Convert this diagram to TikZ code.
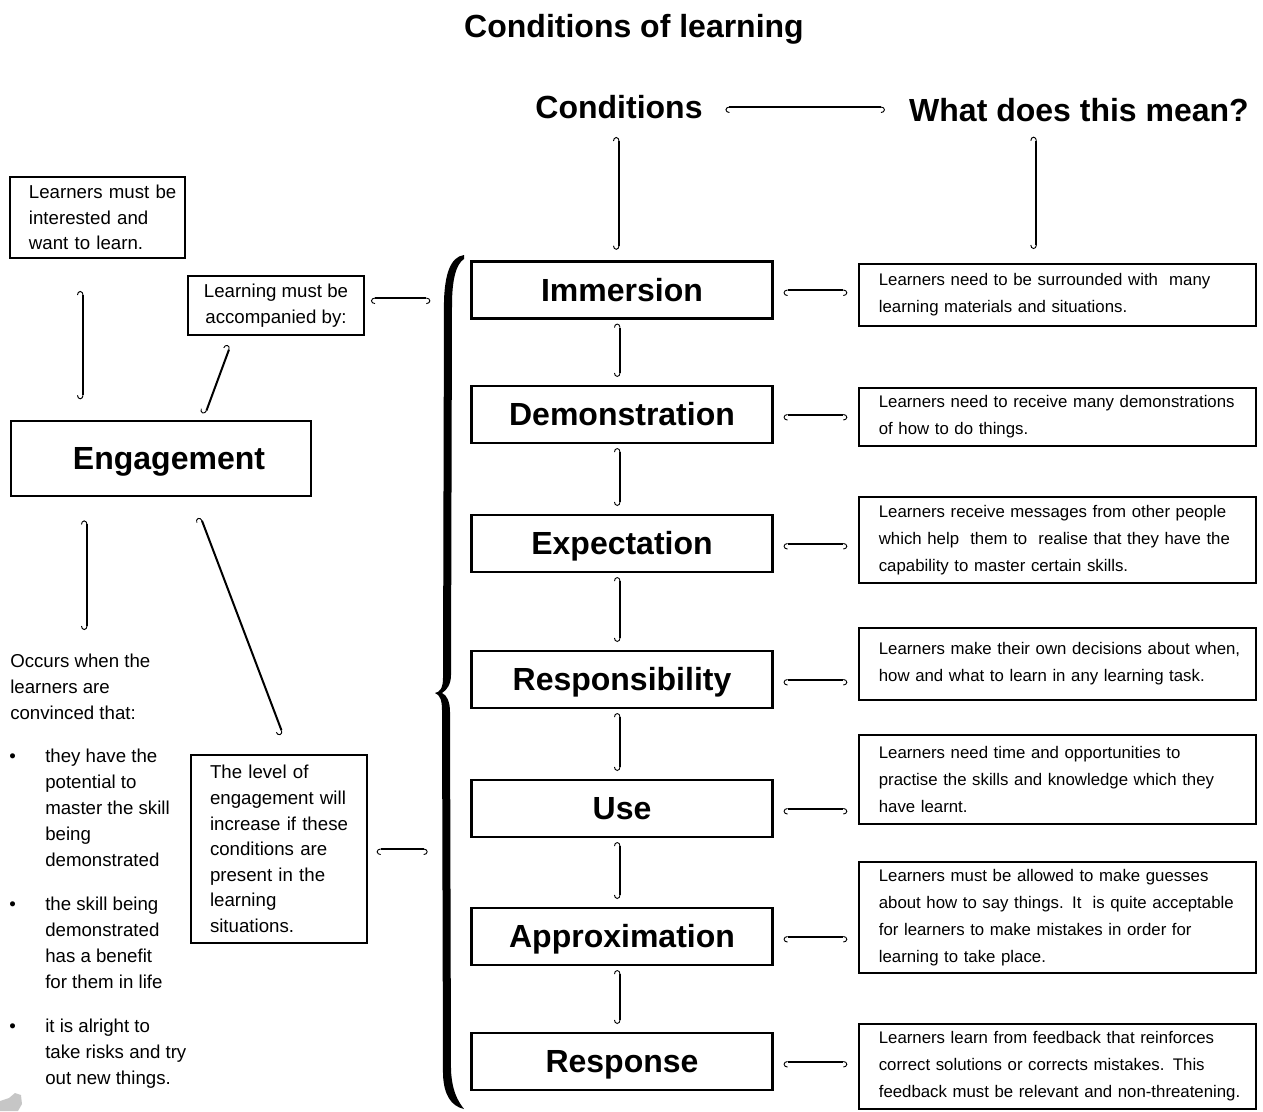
\documentclass[tikz,border=0pt]{standalone}
\usepackage{fontspec}
\setmainfont{Liberation Sans}
\usetikzlibrary{arrows.meta}
\tikzset{cond/.style={draw, line width=1.6pt, minimum width=225.75pt, minimum height=42.75pt, inner sep=0pt, text height=17.2pt, text depth=0pt, font=\fontsize{24}{28}\selectfont\bfseries},
  expl/.style={draw, line width=1.5pt, text width=283pt, inner xsep=7.4pt, inner ysep=0pt, align=left, execute at begin node={\leftskip=7.5pt}, font=\fontsize{12.6}{20.2}\selectfont},
  note/.style={draw, line width=1.5pt, align=left, font=\fontsize{14}{19.2}\selectfont},
  plain/.style={inner sep=0pt, align=left, font=\fontsize{14}{19.5}\selectfont},
  head/.style={inner sep=0pt, font=\fontsize{24}{28}\selectfont\bfseries},
  link/.style={line width=1.5pt, {Hooks[left,arc=180,length=3pt,width=9pt,line width=0.7pt]}-{Hooks[right,arc=180,length=3pt,width=9pt,line width=0.7pt]}}}

\begin{document}
\begin{tikzpicture}[x=0.75pt, y=-0.75pt]
  \useasboundingbox (0,0) rectangle (1263,1111);
  % headings
  \node[head] (title) at (634,29) {Conditions of learning};
  \node[head] (cnd) at (619,107) {Conditions};
  \node[head] (mean) at (1079,110) {What does this mean?};
  \draw[link, shorten <=17pt, shorten >=18pt] (cnd.east) -- (cnd.east -| mean.west);
  % the seven conditions
  \node[cond] (imm) at (622,290) {Immersion};
  \node[cond] (dem) at (622,414.5) {Demonstration};
  \node[cond] (exp) at (622,543.5) {Expectation};
  \node[cond] (res) at (622,679.5) {Responsibility};
  \node[cond] (use) at (622,808.5) {Use};
  \node[cond] (app) at (622,936.5) {Approximation};
  \node[cond] (rsp) at (622,1061.5) {Response};
  % what they mean
  \node[expl, minimum height=46.5pt] (immx) at (1057.5,295)
    {Learners need to be surrounded with\ \ many\\learning materials and situations.};
  \node[expl, minimum height=43.5pt] (demx) at (1057.5,417)
    {Learners need to receive many demonstrations\\of how to do things.};
  \node[expl, minimum height=64.5pt] (expx) at (1057.5,540)
    {Learners receive messages from other people\\which help\ \ them to\ \ realise that they have the\\capability to master certain skills.};
  \node[expl, minimum height=54pt] (resx) at (1057.5,664)
    {Learners make their own decisions about when,\\how and what to learn in any learning task.};
  \node[expl, minimum height=66.75pt] (usex) at (1057.5,779.5)
    {Learners need time and opportunities to\\practise the skills and knowledge which they\\have learnt.};
  \node[expl, minimum height=83.25pt] (appx) at (1057.5,917.5)
    {Learners must be allowed to make guesses\\about how to say things. It\ \ is quite acceptable\\for learners to make mistakes in order for\\learning to take place.};
  \node[expl, minimum height=64pt] (rspx) at (1057.5,1066.5)
    {Learners learn from feedback that reinforces\\correct solutions or corrects mistakes. This\\feedback must be relevant and non-threatening.};
  \draw[link, shorten <=13.5pt, shorten >=8pt] (cnd.south) -- (cnd.south |- imm.north);
  \draw[link, shorten <=11pt, shorten >=10.5pt] ([xshift=-32pt]mean.south) -- ([xshift=-32pt]mean.south |- immx.north);
  \foreach \a/\b in {imm/dem, dem/exp, exp/res, res/use, use/app, app/rsp}
    \draw[link, shorten <=3pt, shorten >=6pt] ([xshift=-1.5pt]\a.south) -- ([xshift=-1.5pt]\b.north);
  \foreach \a in {imm, dem, exp, res, use, app, rsp}
    \draw[link, shorten <=7.5pt, shorten >=8pt] (\a.east) -- (\a.east -| \a x.west);
  % brace
  \coordinate (brace) at (437,693);
  \fill (464,255) .. controls (450,257) and (445,275) .. (444,300) -- (443,678)
    .. controls (443,688) and (440,692) .. (435,693)
    .. controls (440,695) and (442,700) .. (442,710) -- (443,1075)
    .. controls (444,1095) and (451,1106) .. (464,1109)
    .. controls (457,1100) and (452,1090) .. (451,1070) -- (450,712)
    .. controls (450,702) and (447,695) .. (442,693)
    .. controls (447,690) and (451,684) .. (451,675) -- (452,305)
    .. controls (452,280) and (456,264) .. (464,259) -- cycle;
  % engagement
  \node[note, text width=124pt, inner xsep=3.6pt, minimum height=60.75pt, execute at begin node={\leftskip=10.6pt}] (want) at (97.5,217.5)
    {Learners must be\\interested and\\want to learn.};
  \node[note, align=center, minimum width=132pt, minimum height=44.25pt] (acc) at (276,305.5)
    {Learning must be\\accompanied by:};
  \node[cond, minimum width=225pt, minimum height=56.25pt] (eng) at (161,458.5) {\hspace*{12pt}Engagement};
  \node[note, text width=112pt, inner xsep=10pt, minimum height=141pt, execute at begin node={\leftskip=4.25pt}] (level) at (279,849)
    {The level of\\engagement will\\increase if these\\conditions are\\present in the\\learning\\situations.};
  \node[plain, anchor=north west] (occurs) at (10,654) {Occurs when the\\learners are\\convinced that:};
  \node[plain, anchor=north west] (pt1) at (45,749) {they have the\\potential to\\master the skill\\being\\demonstrated};
  \node[plain, anchor=north west] (pt2) at (45,897) {the skill being\\demonstrated\\has a benefit\\for them in life};
  \node[plain, anchor=north west] (pt3) at (45,1019) {it is alright to\\take risks and try\\out new things.};
  \node[plain, anchor=north west] (dot1) at (9,749) {\textbullet\vphantom{h}};
  \node[plain, anchor=north west] (dot2) at (9,897) {\textbullet\vphantom{h}};
  \node[plain, anchor=north west] (dot3) at (9,1019) {\textbullet\vphantom{h}};
  \draw[link, shorten <=24pt, shorten >=15.5pt] (want.south -| 83,0) -- (eng.north -| 83,0);
  \draw[link, shorten <=8pt, shorten >=4.5pt] ([xshift=-31.5pt]acc.south) -- ([xshift=31.5pt]eng.north);
  \draw[link, shorten <=17.5pt, shorten >=18pt] (eng.south -| 87,0) -- (occurs.north -| 87,0);
  \draw[link, shorten <=16pt, shorten >=16pt] ([xshift=24pt]eng.south) -- ([xshift=8.6pt]level.north);
  \draw[link, shorten <=4.5pt, shorten >=5pt] ([yshift=5.6pt]acc.east) -- ([yshift=5.6pt]acc.east -| brace);
  \draw[link, shorten <=6.5pt, shorten >=7pt] (level.east) -- (level.east -| brace);
  % grey smudge
  \fill[gray!45] (0,1111) -- (0,1101) -- (9,1098) -- (15,1093) -- (21,1095) -- (22,1104) -- (18,1111) -- cycle;
\end{tikzpicture}
\end{document}
